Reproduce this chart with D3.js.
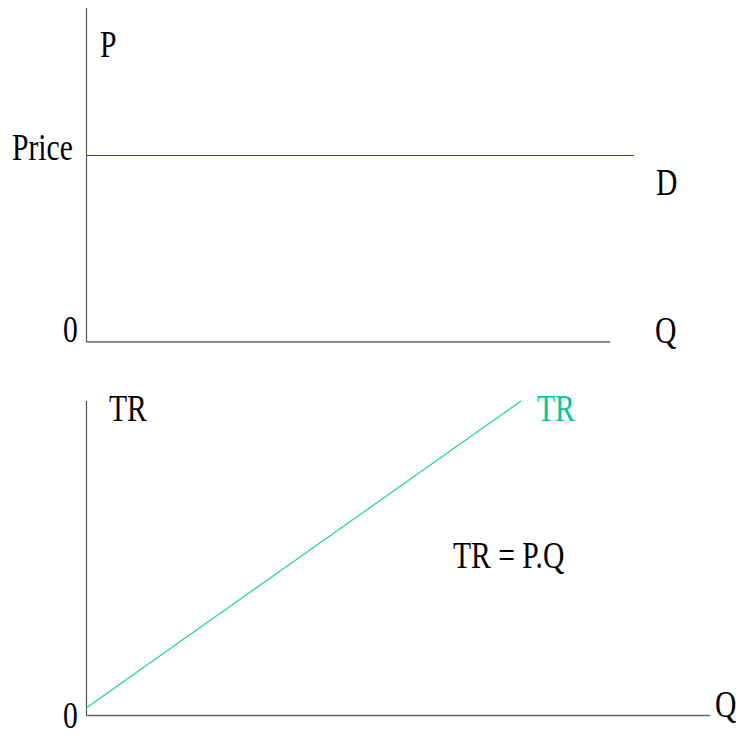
<!DOCTYPE html>
<html><head><meta charset="utf-8">
<script src="https://cdn.jsdelivr.net/npm/d3@7"></script>
<style>body{margin:0;background:#fff}svg{display:block}</style>
</head><body>
<svg id="c" width="739" height="737"></svg>
<script>
// Data
const qDomain = [0, 10];
const priceLevel = 5.6;          // horizontal demand line (P)
const demandQ = [0, 12.6];       // extent of demand line
const topAxisQEnd = 12.05;
const trQ = [0, 10];
const trValues = [0.25, 10];     // TR = P.Q
const bottomAxisQEnd = 14.35;

const svg = d3.select("#c");
const x = d3.scaleLinear().domain(qDomain).range([86.5, 521]);
const yTop = d3.scaleLinear().domain([0, 10]).range([342, 8]);
const yBot = d3.scaleLinear().domain([0, 10]).range([715.5, 401]);

const axisColor = "#555";
// top panel axes
svg.append("line").attr("x1", x(0)).attr("x2", x(0)).attr("y1", yTop(10)).attr("y2", yTop(0))
  .attr("stroke", axisColor).attr("stroke-width", 1.2);
svg.append("line").attr("x1", x(0)).attr("x2", x(topAxisQEnd)).attr("y1", yTop(0)).attr("y2", yTop(0))
  .attr("stroke", "#666").attr("stroke-width", 1.5);
// demand line
svg.append("line").attr("x1", x(demandQ[0])).attr("x2", x(demandQ[1]))
  .attr("y1", Math.round(yTop(priceLevel)) + 0.5).attr("y2", Math.round(yTop(priceLevel)) + 0.5)
  .attr("stroke", "#3838c4").attr("stroke-width", 1.2);

// bottom panel axes
svg.append("line").attr("x1", x(0)).attr("x2", x(0)).attr("y1", yBot(10)).attr("y2", yBot(0))
  .attr("stroke", axisColor).attr("stroke-width", 1.2);
svg.append("line").attr("x1", x(0)).attr("x2", x(bottomAxisQEnd)).attr("y1", yBot(0)).attr("y2", yBot(0))
  .attr("stroke", "#666").attr("stroke-width", 1.5);
// TR line
const line = d3.line().x((d, i) => x(trQ[i])).y(d => yBot(d));
svg.append("path").attr("d", line(trValues)).attr("fill", "none")
  .attr("stroke", "#22d0a6").attr("stroke-width", 1.2);

function label(t, px, py, color) {
  svg.append("text").attr("transform", `translate(${px},${py}) scale(0.8,1)`)
    .style("font-family", '"Liberation Serif"')
    .style("font-size", "37px")
    .attr("fill", color || "#000").text(t);
}
label("P", 100, 57);
label("Price", 12, 160);
label("D", 656, 195);
label("Q", 655, 343);
label("0", 63, 342);
label("TR", 109, 421);
label("TR", 537, 421, "#00c896");
label("TR = P.Q", 453, 568);
label("0", 63, 728);
label("Q", 715, 717);
</script>
</body></html>
